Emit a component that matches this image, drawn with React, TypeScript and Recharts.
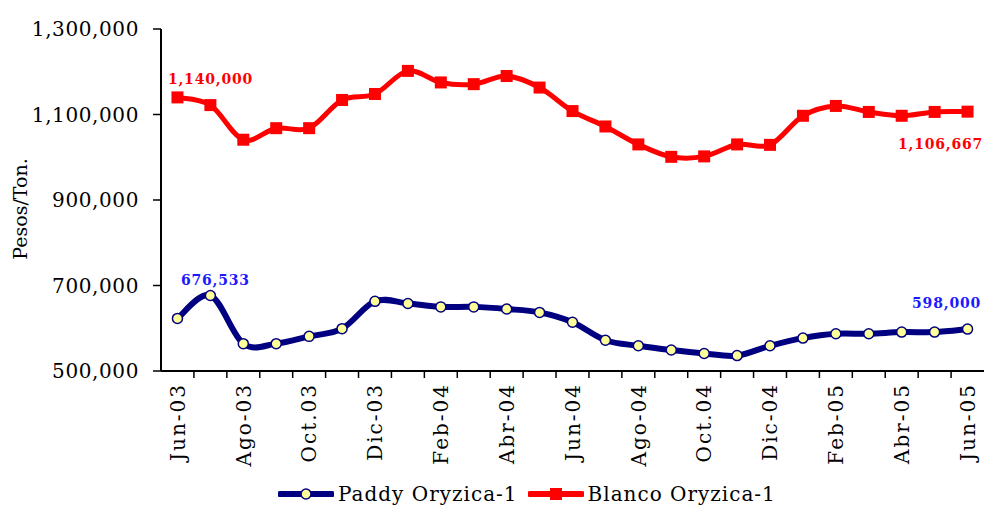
import React from 'react'
import { LineChart, Line, XAxis, YAxis, LabelList } from 'recharts'

const months = [
  'Jun-03', 'Jul-03', 'Ago-03', 'Sep-03', 'Oct.03', 'Nov-03', 'Dic-03', 'Ene-04', 'Feb-04',
  'Mar-04', 'Abr-04', 'May-04', 'Jun-04', 'Jul-04', 'Ago-04', 'Sep-04', 'Oct.04', 'Nov-04',
  'Dic-04', 'Ene-05', 'Feb-05', 'Mar-05', 'Abr-05', 'May-05', 'Jun-05',
]

const paddy = [
  623000, 676533, 564000, 564000, 581000, 599000, 663000, 658000, 650000, 650000, 645000,
  637000, 614000, 572000, 559000, 549000, 541000, 536000, 559000, 577000, 587000, 587000,
  591000, 591000, 598000,
]

const blanco = [
  1140000, 1122000, 1041000, 1068000, 1068000, 1134000, 1148000, 1202000, 1175000, 1171000,
  1190000, 1163000, 1108000, 1072000, 1030000, 1001000, 1002000, 1030000, 1029000, 1097000,
  1120000, 1106000, 1097000, 1106000, 1106667,
]

const yTicks = [500000, 700000, 900000, 1100000, 1300000]

// which points carry a value label
const paddyLabels = [1, 24]
const blancoLabels = [0, 24]

const data = months.map((m, i) => ({ idx: i, month: m, paddy: paddy[i], blanco: blanco[i] }))

// ticks on integers (labels) and half-steps (tick marks between months)
const xTicks: number[] = []
for (let i = 0; i < months.length; i++) {
  xTicks.push(i)
  if (i < months.length - 1) xTicks.push(i + 0.5)
}

const FONT = '"DejaVu Serif", serif'
const NAVY = '#000080'
const RED = '#FF0000'

const fmt = (v: number) => Math.round(v).toLocaleString('en-US')

// excel-like smoothed line (catmull-rom as bezier)
function excelCurve(context: any) {
  let pts: number[][] = []
  return {
    areaStart() {},
    areaEnd() {},
    lineStart() { pts = [] },
    point(x: number, y: number) { pts.push([+x, +y]) },
    lineEnd() {
      if (!pts.length) return
      context.moveTo(pts[0][0], pts[0][1])
      for (let i = 0; i < pts.length - 1; i++) {
        const p0 = pts[i - 1] || pts[i]
        const p1 = pts[i]
        const p2 = pts[i + 1]
        const p3 = pts[i + 2] || p2
        context.bezierCurveTo(
          p1[0] + (p2[0] - p0[0]) / 6, p1[1] + (p2[1] - p0[1]) / 6,
          p2[0] - (p3[0] - p1[0]) / 6, p2[1] - (p3[1] - p1[1]) / 6,
          p2[0], p2[1],
        )
      }
    },
  }
}

function XTick({ x, y, payload }: any) {
  const v = payload.value
  if (!Number.isInteger(v)) {
    return <line x1={x} x2={x} y1={y - 8} y2={y - 1} stroke="#000" strokeWidth={1.5} />
  }
  if (v % 2 !== 0) return null
  return (
    <text
      transform={`translate(${x},${y + 4}) rotate(-90)`}
      textAnchor="end"
      dy="0.36em"
      fontSize={20}
      letterSpacing={2}
      fontFamily={FONT}
      fill="#000"
    >
      {months[v]}
    </text>
  )
}

function RedSquare({ cx, cy, index }: any) {
  return <rect key={index} x={cx - 6} y={cy - 6} width={12} height={12} fill={RED} />
}

const labelOffsets: Record<string, { dx: number; dy: number }> = {
  'paddy-1': { dx: 5, dy: -11 },
  'paddy-24': { dx: -21, dy: -21 },
  'blanco-0': { dx: 33, dy: -13 },
  'blanco-24': { dx: -27, dy: 37 },
}

function makeLabel(series: string, values: number[], which: number[], color: string) {
  return (props: any) => {
    const { x, y, value } = props
    let index = props.index
    if (index === undefined) index = values.indexOf(value)
    if (!which.includes(index)) return null
    const off = labelOffsets[`${series}-${index}`]
    return (
      <text
        x={x + off.dx}
        y={y + off.dy}
        textAnchor="middle"
        fontSize={14}
        fontWeight="bold"
        letterSpacing={0.8}
        fontFamily={FONT}
        fill={color}
      >
        {fmt(values[index])}
      </text>
    )
  }
}

function YTitle({ viewBox }: any) {
  const cy = viewBox.y + viewBox.height / 2 + 9
  return (
    <text transform={`translate(20,${cy}) rotate(-90)`} textAnchor="middle" dy="0.35em" fontSize={19} fontFamily={FONT} fill="#000">
      Pesos/Ton.
    </text>
  )
}

const legendItems = [
  { name: 'Paddy Oryzica-1', color: NAVY, marker: 'circle' },
  { name: 'Blanco Oryzica-1', color: RED, marker: 'square' },
]

export default function App() {
  return (
    <div style={{ position: 'absolute', left: 0, top: 0, width: 984, height: 507, background: '#fff', fontFamily: FONT }}>
      <LineChart width={984} height={507} data={data} margin={{ top: 29, right: 0, left: 0, bottom: 0 }}>
        <XAxis
          dataKey="idx"
          type="number"
          domain={[-0.5, 24.5]}
          allowDataOverflow
          ticks={xTicks}
          interval={0}
          height={136}
          tickSize={8}
          tickMargin={0}
          tickLine={false}
          axisLine={{ stroke: '#000', strokeWidth: 2 }}
          tick={<XTick />}
        />
        <YAxis
          width={161}
          domain={[500000, 1300000]}
          ticks={yTicks}
          interval={0}
          tickSize={8}
          tickMargin={14}
          tickFormatter={fmt}
          tick={{ fontSize: 20, fill: '#000', fontFamily: FONT, letterSpacing: 0.6 }}
          tickLine={{ stroke: '#000', strokeWidth: 1.5 }}
          axisLine={{ stroke: '#000', strokeWidth: 2 }}
          label={<YTitle />}
        />
        <Line
          dataKey="paddy"
          name="Paddy Oryzica-1"
          type={excelCurve as any}
          stroke={NAVY}
          strokeWidth={6}
          dot={{ r: 5, fill: '#FFFF99', stroke: NAVY, strokeWidth: 1.5 }}
          activeDot={false}
          isAnimationActive={false}
        >
          <LabelList dataKey="paddy" content={makeLabel('paddy', paddy, paddyLabels, '#1a1aff')} />
        </Line>
        <Line
          dataKey="blanco"
          name="Blanco Oryzica-1"
          type={excelCurve as any}
          stroke={RED}
          strokeWidth={5}
          dot={<RedSquare />}
          activeDot={false}
          isAnimationActive={false}
        >
          <LabelList dataKey="blanco" content={makeLabel('blanco', blanco, blancoLabels, RED)} />
        </Line>
      </LineChart>
      <div style={{ position: 'absolute', left: 278, top: 482, display: 'flex', alignItems: 'center', fontSize: 20, color: '#000' }}>
        {legendItems.map((it, i) => (
          <div key={it.name} style={{ display: 'flex', alignItems: 'center', marginRight: i === 0 ? 10 : 0 }}>
            <svg width={56} height={20} style={{ display: 'block' }}>
              <line x1={2} x2={54} y1={10} y2={10} stroke={it.color} strokeWidth={6} strokeLinecap="round" />
              {it.marker === 'circle' ? (
                <circle cx={28} cy={10} r={5} fill="#FFFF99" stroke={NAVY} strokeWidth={1.5} />
              ) : (
                <rect x={22} y={4} width={12} height={12} fill={RED} />
              )}
            </svg>
            <span style={{ marginLeft: 4, letterSpacing: 1 }}>{it.name}</span>
          </div>
        ))}
      </div>
    </div>
  )
}
